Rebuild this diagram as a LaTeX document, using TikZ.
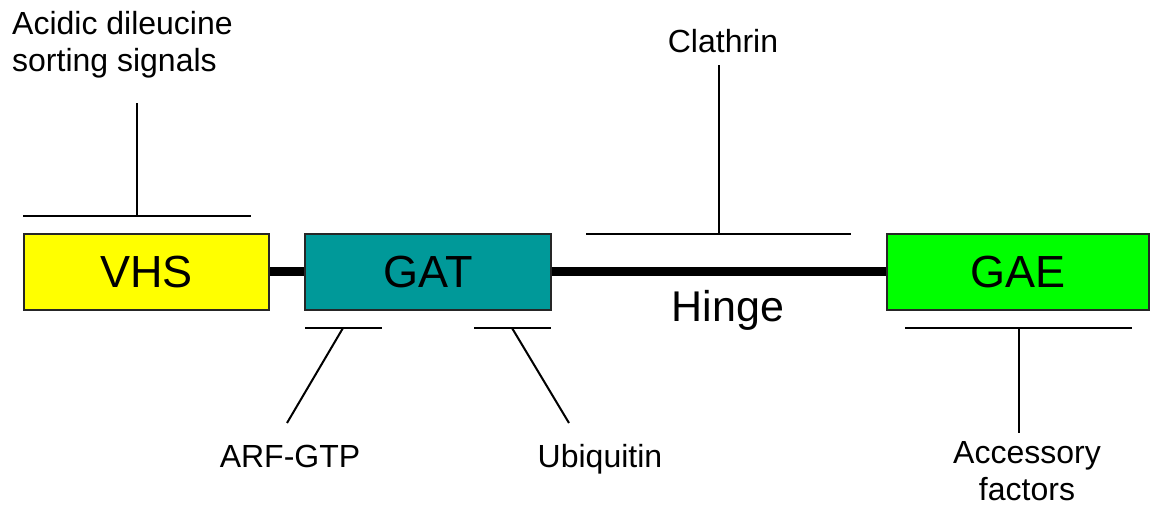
\documentclass[tikz,border=0pt]{standalone}
\usepackage{fontspec}
\setmainfont{Liberation Sans}
\begin{document}
\begin{tikzpicture}[x=1pt,y=-1pt,
  domain/.style={draw=black!85,line width=2pt,minimum width=#1,minimum height=76pt,inner sep=0pt,font=\fontsize{45}{50}\selectfont},
  lbl/.style={font=\fontsize{32}{37}\selectfont,inner sep=0pt,align=center},
  thin/.style={line width=2pt},
  linker/.style={line width=9pt}]
\useasboundingbox (0,0) rectangle (1151,510);
\definecolor{vhsyellow}{RGB}{255,255,0}
\definecolor{gatteal}{RGB}{0,153,153}
\definecolor{gaegreen}{RGB}{0,255,0}
% domains
\node[domain=245pt,fill=vhsyellow] (vhs) at (146.5,272) {VHS};
\node[domain=246pt,fill=gatteal] (gat) at (428,272) {GAT};
\node[domain=262pt,fill=gaegreen] (gae) at (1018,272) {GAE};
% linkers
\draw[linker] (vhs.east) -- (gat.west);
\draw[linker] (gat.east) -- (gae.west);
\node[font=\fontsize{43}{48}\selectfont,inner sep=0pt,anchor=base] (hinge) at (728,322) {Hinge};
% labels
\node[lbl,anchor=base west,align=left] (acidic) at (12,72) {Acidic dileucine\\sorting signals};
\node[lbl,anchor=base] (clathrin) at (723,53) {Clathrin};
\node[lbl,anchor=base] (arf) at (290,467) {ARF-GTP};
\node[lbl,anchor=base] (ubi) at (600,467) {Ubiquitin};
\node[lbl,anchor=base] (acc) at (1027,500) {Accessory\\factors};
% binding bars
\coordinate (b1l) at (23,216); \coordinate (b1r) at (251,216); \coordinate (b1m) at (137,216); \coordinate (b1t) at (137,103);
\coordinate (b2l) at (586,234); \coordinate (b2r) at (851,234); \coordinate (b2m) at (719,234); \coordinate (b2t) at (719,65);
\coordinate (b3l) at (305,328); \coordinate (b3r) at (382,328); \coordinate (b3m) at (343,328); \coordinate (b3e) at (287,423);
\coordinate (b4l) at (474,328); \coordinate (b4r) at (551,328); \coordinate (b4m) at (512,328); \coordinate (b4e) at (569,423);
\coordinate (b5l) at (905,328); \coordinate (b5r) at (1132,328); \coordinate (b5m) at (1019,328); \coordinate (b5e) at (1019,433);
\draw[thin] (b1l) -- (b1r); \draw[thin] (b1m) -- (b1t);
\draw[thin] (b2l) -- (b2r); \draw[thin] (b2m) -- (b2t);
\draw[thin] (b3l) -- (b3r); \draw[thin] (b3m) -- (b3e);
\draw[thin] (b4l) -- (b4r); \draw[thin] (b4m) -- (b4e);
\draw[thin] (b5l) -- (b5r); \draw[thin] (b5m) -- (b5e);
\end{tikzpicture}
\end{document}
